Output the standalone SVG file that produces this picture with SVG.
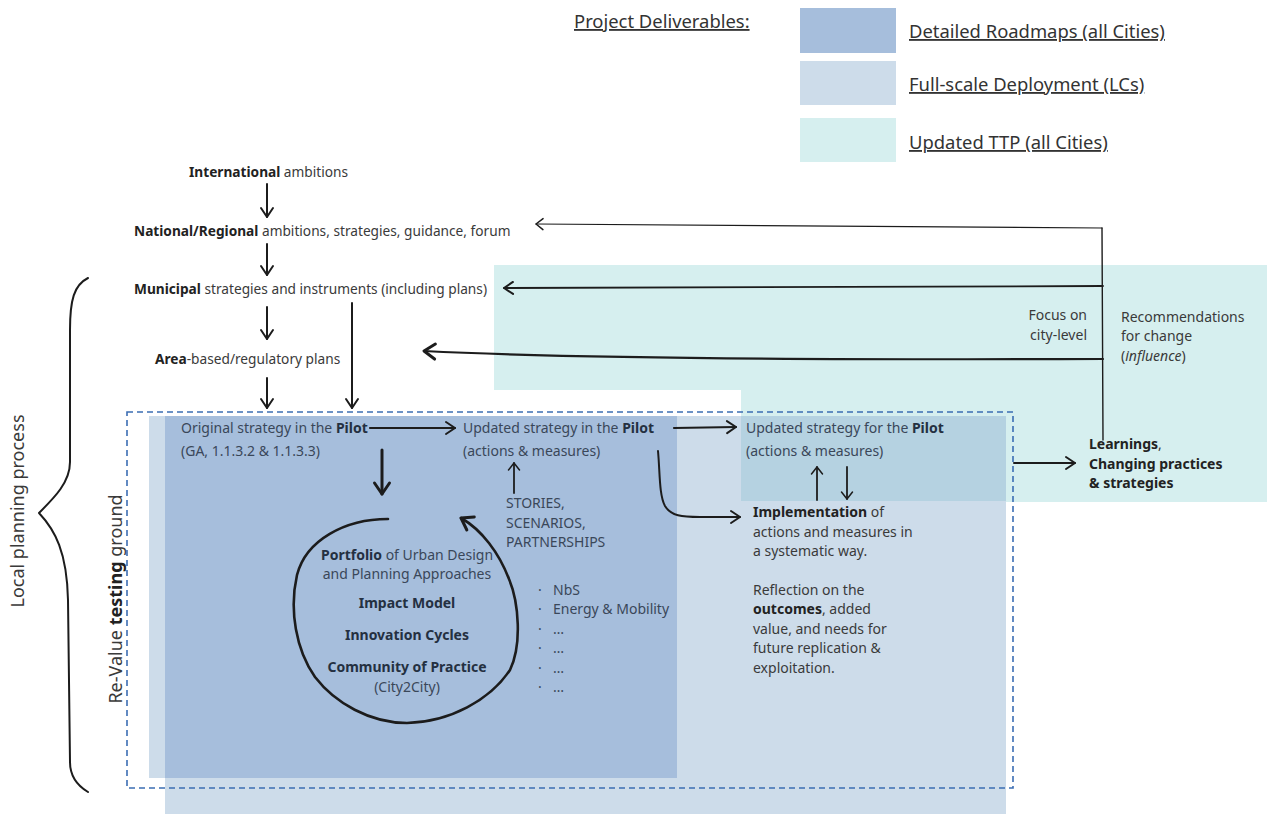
<svg xmlns="http://www.w3.org/2000/svg" width="1267" height="814" viewBox="0 0 1267 814">
<style>
text{font-family:"Noto Sans","Open Sans","Liberation Sans",sans-serif;font-size:14px;fill:#3a3a3a}
.b{font-weight:700;fill:#222}
.lc{font-size:13.7px}
.in{fill:#3a4759}
.in .b,.inb{font-weight:700;fill:#243041}
.leg{font-size:18.4px;fill:#333;text-decoration:underline}
.vt{font-size:18px;fill:#3a3a3a}
.ln{fill:none;stroke:#1c1c1c;stroke-linecap:round;stroke-linejoin:round}
</style>
<defs>
<marker id="as" markerWidth="14" markerHeight="14" refX="9" refY="7" orient="auto" markerUnits="userSpaceOnUse">
<path d="M2,1.5 L9,7 L2,12.5" fill="none" stroke="#1c1c1c" stroke-width="1.5" stroke-linecap="round" stroke-linejoin="round"/>
</marker>
<marker id="am" markerWidth="16" markerHeight="16" refX="11" refY="8" orient="auto" markerUnits="userSpaceOnUse">
<path d="M2,2 L11,8 L2,14" fill="none" stroke="#1c1c1c" stroke-width="2" stroke-linecap="round" stroke-linejoin="round"/>
</marker>
<marker id="al" markerWidth="20" markerHeight="20" refX="14" refY="10" orient="auto" markerUnits="userSpaceOnUse">
<path d="M3,2.5 L14,10 L3,17.5" fill="none" stroke="#1c1c1c" stroke-width="3" stroke-linecap="round" stroke-linejoin="round"/>
</marker>
</defs>

<g id="backgrounds">
<polygon points="494,265 1267,265 1267,502 741,502 741,390 494,390" fill="#d6efef"/>
<rect x="149" y="416" width="16" height="362" fill="#cddcea"/>
<rect x="165" y="416" width="841" height="398" fill="#cddcea"/>
<rect x="741" y="416" width="265" height="85" fill="#b5d2e1"/>
<rect x="165" y="416" width="512" height="362" fill="#a6bedc"/>
<rect id="testing-ground" x="127" y="412" width="886" height="376" fill="none" stroke="#3b6db3" stroke-width="1.6" stroke-dasharray="6,4"/>
</g>

<g id="legend">
<text x="574" y="28" class="leg">Project Deliverables:</text>
<rect x="800" y="8" width="96" height="45" fill="#a6bedc"/>
<rect x="800" y="61" width="96" height="44" fill="#cddcea"/>
<rect x="800" y="118" width="96" height="44" fill="#d6efef"/>
<text x="909" y="38" class="leg">Detailed Roadmaps (all Cities)</text>
<text x="909" y="91" class="leg">Full-scale Deployment (LCs)</text>
<text x="909" y="149" class="leg">Updated TTP (all Cities)</text>
</g>

<g id="n-international"><text x="189" y="177" class="lc"><tspan class="b">International</tspan> ambitions</text></g>
<g id="n-national"><text x="134" y="236" class="lc"><tspan class="b">National/Regional</tspan> ambitions, strategies, guidance, forum</text></g>
<g id="n-municipal"><text x="134" y="294" class="lc"><tspan class="b">Municipal</tspan> strategies and instruments (including plans)</text></g>
<g id="n-area"><text x="155" y="364" class="lc"><tspan class="b">Area</tspan>-based/regulatory plans</text></g>

<g id="n-original"><text x="181" y="433" class="in">Original strategy in the <tspan class="inb">Pilot</tspan></text><text x="181" y="456" class="in">(GA, 1.1.3.2 &amp; 1.1.3.3)</text></g>
<g id="n-updated-in"><text x="463" y="433" class="in">Updated strategy in the <tspan class="inb">Pilot</tspan></text><text x="463" y="456" class="in">(actions &amp; measures)</text></g>
<g id="n-updated-for"><text x="746" y="433" class="in">Updated strategy for the <tspan class="inb">Pilot</tspan></text><text x="746" y="456" class="in">(actions &amp; measures)</text></g>
<g id="n-stories"><text x="506" y="508" class="in">STORIES,</text><text x="506" y="528" class="in">SCENARIOS,</text><text x="506" y="547" class="in">PARTNERSHIPS</text></g>

<g id="n-cycle" text-anchor="middle">
<text x="407" y="560" class="in"><tspan class="inb">Portfolio</tspan> of Urban Design</text>
<text x="407" y="579" class="in">and Planning Approaches</text>
<text x="407" y="608" class="inb">Impact Model</text>
<text x="407" y="640" class="inb">Innovation Cycles</text>
<text x="407" y="672" class="inb">Community of Practice</text>
<text x="407" y="692" class="in">(City2City)</text>
</g>

<g id="n-topics">
<text x="538" y="595" class="in">·</text><text x="553" y="595" class="in">NbS</text>
<text x="538" y="614" class="in">·</text><text x="553" y="614" class="in">Energy &amp; Mobility</text>
<text x="538" y="634" class="in">·</text><text x="553" y="634" class="in">…</text>
<text x="538" y="653" class="in">·</text><text x="553" y="653" class="in">…</text>
<text x="538" y="673" class="in">·</text><text x="553" y="673" class="in">…</text>
<text x="538" y="692" class="in">·</text><text x="553" y="692" class="in">…</text>
</g>

<g id="n-implementation">
<text x="753" y="517"><tspan class="b">Implementation</tspan> of</text>
<text x="753" y="537">actions and measures in</text>
<text x="753" y="556">a systematic way.</text>
<text x="753" y="595">Reflection on the</text>
<text x="753" y="614"><tspan class="b">outcomes</tspan>, added</text>
<text x="753" y="634">value, and needs for</text>
<text x="753" y="653">future replication &amp;</text>
<text x="753" y="673">exploitation.</text>
</g>

<g id="n-learnings">
<text x="1089" y="449" class="b">Learnings<tspan style="font-weight:400;fill:#3a3a3a">,</tspan></text>
<text x="1089" y="469" class="b">Changing practices</text>
<text x="1089" y="488" class="b">&amp; strategies</text>
</g>

<g id="n-focus" text-anchor="end"><text x="1087" y="320">Focus on</text><text x="1087" y="340">city-level</text></g>
<g id="n-recommend"><text x="1121" y="322">Recommendations</text><text x="1121" y="341">for change</text><text x="1121" y="361">(<tspan font-style="italic">influence</tspan>)</text></g>

<g id="n-local"><text class="vt" transform="translate(24,511) rotate(-90)" text-anchor="middle">Local planning process</text></g>
<g id="n-revalue"><text class="vt" transform="translate(122,599) rotate(-90)" text-anchor="middle">Re-Value <tspan font-weight="700" fill="#222">testing</tspan> ground</text></g>

<g id="connectors">
<path class="ln" stroke-width="2" d="M267,184 L267,217" marker-end="url(#am)"/>
<path class="ln" stroke-width="2" d="M267,244 L267,275" marker-end="url(#am)"/>
<path class="ln" stroke-width="2" d="M267,307 L267,339" marker-end="url(#am)"/>
<path class="ln" stroke-width="2" d="M267,378 L267,408" marker-end="url(#am)"/>
<path class="ln" stroke-width="2" d="M352,303 L352,408" marker-end="url(#am)"/>
<path class="ln" stroke-width="1.4" d="M1103,440 L1102,228"/>
<path class="ln" stroke-width="1.2" d="M1102,228 C900,228 700,226 536,224" marker-end="url(#as)"/>
<path class="ln" stroke-width="1.8" d="M1103,286 C900,287 700,287 504,288" marker-end="url(#am)"/>
<path class="ln" stroke-width="2.2" d="M1103,359 C800,360 560,358 424,351" marker-end="url(#al)"/>
<path class="ln" stroke-width="2.2" d="M370,428 L455,428" marker-end="url(#am)"/>
<path class="ln" stroke-width="2.2" d="M674,428 L736,427" marker-end="url(#am)"/>
<path class="ln" stroke-width="3" d="M382,450 L382,494" marker-end="url(#al)"/>
<path class="ln" stroke-width="1.8" d="M514,493 L514,463" marker-end="url(#as)"/>
<path class="ln" stroke-width="2" d="M658,451 C660,472 659,495 665,506 C671,516 682,517 700,517 L740,517" marker-end="url(#am)"/>
<path class="ln" stroke-width="1.8" d="M817,500 L817,467" marker-end="url(#as)"/>
<path class="ln" stroke-width="1.8" d="M847,467 L847,499" marker-end="url(#as)"/>
<path class="ln" stroke-width="2" d="M1014,463 L1075,463" marker-end="url(#am)"/>
<path class="ln" stroke-width="2.6" d="M388,519 C345,519 306,540 297,575 C289,610 296,650 315,677 C335,703 370,723 407,723 C450,722 490,700 510,670 C522,645 519,603 509,579 C499,553 482,530 461,518" marker-end="url(#al)"/>
<path class="ln" stroke-width="2" d="M88,278 C74,285 70,300 70,330 L70,462 C70,482 55,497 39,513 C55,530 67,552 68,600 L70,762 C70,776 78,786 88,792"/>
</g>
</svg>
